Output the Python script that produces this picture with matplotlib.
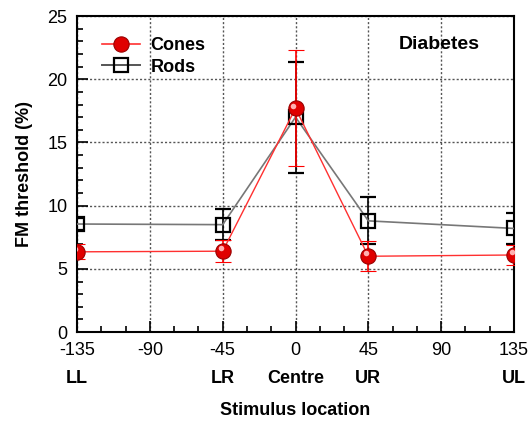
import numpy as np
import matplotlib
matplotlib.use('Agg')
import matplotlib.pyplot as plt
from matplotlib import transforms
from matplotlib.lines import Line2D

plt.rcParams['font.family'] = ['Liberation Sans', 'DejaVu Sans']

angles = [-135, -45, 0, 45, 135]
cones = [6.35, 6.4, 17.7, 6.0, 6.1]
cones_err = [0.6, 0.85, 4.6, 1.2, 0.8]
rods = [8.55, 8.5, 17.0, 8.8, 8.2]
rods_err = [0.5, 1.25, 4.4, 1.85, 1.2]
xticks = [-135, -90, -45, 0, 45, 90, 135]
loc_names = {-135: 'LL', -45: 'LR', 0: 'Centre', 45: 'UR', 135: 'UL'}

fig = plt.figure(figsize=(5.31, 4.22), dpi=100)
ax = fig.add_axes([0.145, 0.213, 0.823, 0.749])

ax.errorbar(angles, rods, yerr=rods_err, color='#777777', lw=1.2,
            ecolor='black', elinewidth=1.2, capsize=6, capthick=1.2,
            marker='s', ms=10, mfc='none', mec='black', mew=1.6,
            zorder=3)
ax.errorbar(angles, cones, yerr=cones_err, color='#ff3030', lw=1.0,
            ecolor='red', elinewidth=1.2, capsize=6, capthick=1.2,
            marker='o', ms=11, mfc='#e00000', mec='#990000', mew=0.8,
            zorder=4)
# highlight on the spheres
hl = transforms.offset_copy(ax.transData, fig=fig, x=-1.5, y=2, units='points')
ax.plot(angles, cones, ls='none', marker='o', ms=4, mfc='#ffb0b0',
        mec='none', transform=hl, zorder=5)

ax.set_xlim(-135, 135)
ax.set_ylim(0, 25)
ax.set_xticks(xticks)
ax.set_xticks(np.arange(-135, 136, 15), minor=True)
ax.set_yticks(np.arange(0, 26, 5))
ax.set_yticks(np.arange(0, 26, 1), minor=True)
ax.set_xticklabels([str(t) for t in xticks])
ax.tick_params(which='both', direction='in', labelsize=13, width=1.2)
ax.tick_params(which='major', length=8, pad=7)
ax.tick_params(which='minor', length=4)
ax.grid(True, which='major', ls=(0, (1.5, 1.5)), color='#555555', lw=1.0)
for s in ax.spines.values():
    s.set_linewidth(1.5)

for a, name in loc_names.items():
    ax.annotate(name, xy=(a, 0), xycoords=('data', 'axes fraction'),
                xytext=(0, -38), textcoords='offset pixels',
                ha='center', va='top', fontsize=13, fontweight='bold')

ax.set_xlabel('Stimulus location', fontsize=13, fontweight='bold', labelpad=31)
ax.set_ylabel('FM threshold (%)', fontsize=13, fontweight='bold', labelpad=10)

ax.text(0.83, 0.91, 'Diabetes', transform=ax.transAxes, ha='center',
        va='center', fontsize=14, fontweight='bold')

handles = [
    Line2D([], [], color='#ff3030', lw=1.2, marker='o', ms=11,
           mfc='#e00000', mec='#990000', mew=0.8),
    Line2D([], [], color='#555555', lw=1.4, marker='s', ms=10,
           mfc='none', mec='black', mew=1.6),
]
ax.legend(handles, ['Cones', 'Rods'], loc='upper left',
          bbox_to_anchor=(0.02, 0.985), frameon=False, handlelength=2.1,
          handletextpad=0.6, labelspacing=0.25,
          prop={'weight': 'bold', 'size': 13})

fig.savefig('out.png', dpi=100)
